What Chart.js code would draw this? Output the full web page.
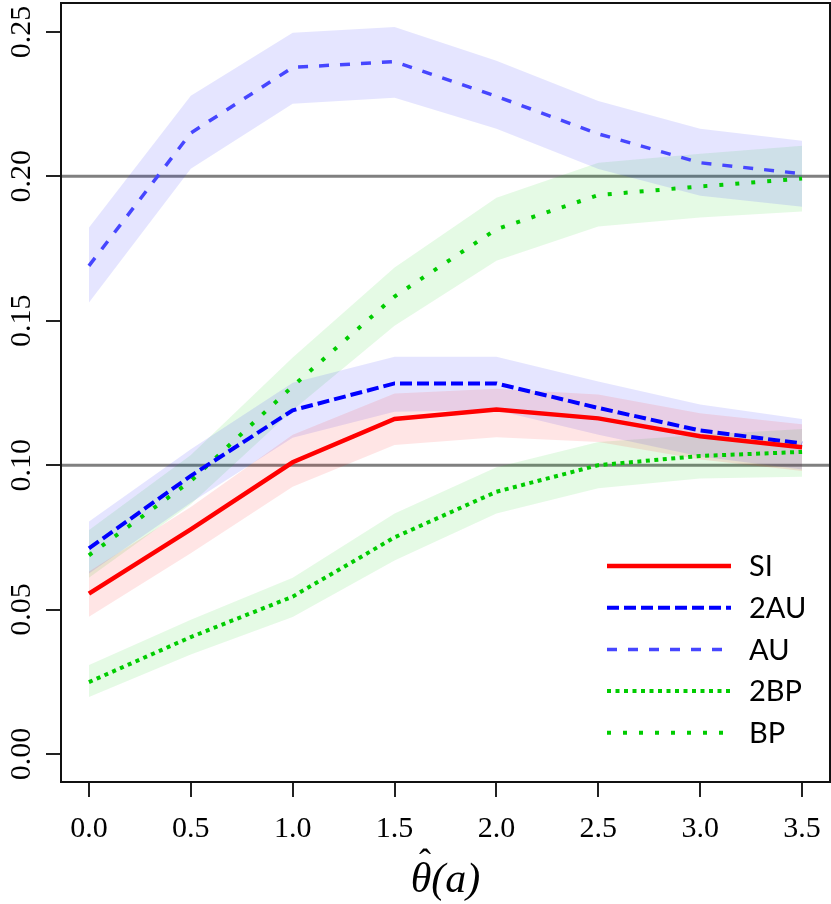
<!DOCTYPE html>
<html>
<head>
<meta charset="utf-8">
<script src="https://cdn.jsdelivr.net/npm/chart.js@4.4.0/dist/chart.umd.min.js"></script>
<style>
  html, body { margin: 0; padding: 0; background: #fff; }
</style>
</head>
<body>
<canvas id="chart" width="831" height="904"></canvas>
<script>
// x positions (theta hat)
const thetaVals = [0, 0.5, 1.0, 1.5, 2.0, 2.5, 3.0, 3.5];
const xTicks = [0, 0.5, 1.0, 1.5, 2.0, 2.5, 3.0, 3.5];
const yTicks = [0, 0.05, 0.10, 0.15, 0.20, 0.25];
const refLevels = [0.10, 0.20];

// rejection rates per method
const siVals  = [0.0555, 0.0778, 0.1010, 0.1160, 0.1193, 0.1162, 0.1100, 0.1062];
const siLow   = [0.0475, 0.0695, 0.0925, 0.1070, 0.1097, 0.1080, 0.1020, 0.0980];
const siHigh  = [0.0632, 0.0855, 0.1105, 0.1248, 0.1265, 0.1245, 0.1180, 0.1142];

const au2Vals = [0.0712, 0.0963, 0.1190, 0.1283, 0.1283, 0.1198, 0.1120, 0.1075];
const au2Low  = [0.0625, 0.0870, 0.1095, 0.1185, 0.1190, 0.1105, 0.1030, 0.0985];
const au2High = [0.0805, 0.1055, 0.1285, 0.1375, 0.1375, 0.1290, 0.1210, 0.1160];

const auVals  = [0.1690, 0.2150, 0.2377, 0.2397, 0.2277, 0.2147, 0.2047, 0.2009];
const auLow   = [0.1563, 0.2026, 0.2251, 0.2272, 0.2165, 0.2025, 0.1933, 0.1895];
const auHigh  = [0.1822, 0.2279, 0.2497, 0.2517, 0.2400, 0.2261, 0.2165, 0.2123];

const bp2Vals = [0.0249, 0.0405, 0.0545, 0.0750, 0.0908, 0.1000, 0.1032, 0.1046];
const bp2Low  = [0.0197, 0.0345, 0.0474, 0.0670, 0.0833, 0.0920, 0.0954, 0.0960];
const bp2High = [0.0308, 0.0465, 0.0610, 0.0833, 0.0993, 0.1080, 0.1105, 0.1125];

const bpVals  = [0.0688, 0.0945, 0.1273, 0.1584, 0.1817, 0.1935, 0.1965, 0.1992];
const bpLow   = [0.0610, 0.0865, 0.1190, 0.1483, 0.1708, 0.1826, 0.1857, 0.1878];
const bpHigh  = [0.0775, 0.1035, 0.1373, 0.1684, 0.1926, 0.2047, 0.2078, 0.2106];

const pts = vals => thetaVals.map((x, i) => ({ x: x, y: vals[i] }));

// lines (drawn on top, so they come first)
const lineSets = [
  { label: 'SI',  data: pts(siVals),  borderColor: '#ff0000', borderWidth: 4.5, borderDash: [] },
  { label: '2AU', data: pts(au2Vals), borderColor: '#0000ff', borderWidth: 4,   borderDash: [12, 5] },
  { label: 'AU',  data: pts(auVals),  borderColor: '#4646ff', borderWidth: 3.5, borderDash: [10, 11] },
  { label: '2BP', data: pts(bp2Vals), borderColor: '#00cc00', borderWidth: 4,   borderDash: [4, 4.5] },
  { label: 'BP',  data: pts(bpVals),  borderColor: '#00cc00', borderWidth: 4,   borderDash: [4, 12] }
].map(d => Object.assign(d, { fill: false, pointRadius: 0, tension: 0, borderCapStyle: 'butt' }));

// shaded bands: lower then upper filled to previous
function band(low, high, color) {
  return [
    { label: '', data: pts(low), borderWidth: 0, pointRadius: 0, fill: false, tension: 0 },
    { label: '', data: pts(high), borderWidth: 0, pointRadius: 0, fill: '-1', tension: 0, backgroundColor: color }
  ];
}
const bandSets = [].concat(
  band(siLow, siHigh, 'rgba(255,0,0,0.10)'),
  band(au2Low, au2High, 'rgba(0,0,255,0.10)'),
  band(auLow, auHigh, 'rgba(0,0,255,0.10)'),
  band(bp2Low, bp2High, 'rgba(0,205,0,0.10)'),
  band(bpLow, bpHigh, 'rgba(0,205,0,0.10)')
);

const decorPlugin = {
  id: 'decor',
  beforeDatasetsDraw(chart) {
    const { ctx, chartArea, scales } = chart;
    ctx.save();
    ctx.strokeStyle = '#808080';
    ctx.lineWidth = 3;
    refLevels.forEach(v => {
      const py = scales.y.getPixelForValue(v);
      ctx.beginPath();
      ctx.moveTo(chartArea.left, py);
      ctx.lineTo(chartArea.right, py);
      ctx.stroke();
    });
    ctx.restore();
  },
  afterDraw(chart) {
    const { ctx, chartArea, scales } = chart;
    ctx.save();
    // frame
    ctx.strokeStyle = '#111';
    ctx.lineWidth = 2;
    ctx.strokeRect(chartArea.left, chartArea.top, chartArea.right - chartArea.left, chartArea.bottom - chartArea.top);

    // rotated y tick labels
    ctx.fillStyle = '#000';
    ctx.font = '30px "Liberation Serif"';
    ctx.textAlign = 'center';
    ctx.textBaseline = 'middle';
    scales.y.ticks.forEach(t => {
      const py = scales.y.getPixelForValue(t.value);
      ctx.save();
      ctx.translate(22, py);
      ctx.rotate(-Math.PI / 2);
      ctx.fillText(t.value.toFixed(2), 0, 0);
      ctx.restore();
    });

    // x axis title: theta hat (a)
    ctx.font = 'italic 42px "Liberation Serif"';
    ctx.textAlign = 'left';
    ctx.textBaseline = 'alphabetic';
    const full = 'θ(a)';
    const wFull = ctx.measureText(full).width;
    const wTheta = ctx.measureText('θ').width;
    const tx = (chartArea.left + chartArea.right) / 2 - wFull / 2;
    const base = 892;
    ctx.fillText(full, tx, base);
    ctx.font = '36px "Liberation Serif"';
    ctx.textAlign = 'center';
    ctx.fillText('ˆ', tx + wTheta / 2 + 4, base - 18);

    // legend
    ctx.font = '29px Lato';
    ctx.textAlign = 'left';
    ctx.textBaseline = 'middle';
    lineSets.forEach((d, i) => {
      const ly = 566 + i * 41.7;
      ctx.strokeStyle = d.borderColor;
      ctx.lineWidth = d.borderWidth;
      ctx.setLineDash(d.borderDash);
      ctx.beginPath();
      ctx.moveTo(607, ly);
      ctx.lineTo(731, ly);
      ctx.stroke();
      ctx.setLineDash([]);
      ctx.fillStyle = '#000';
      ctx.fillText(d.label, 749, ly + 1);
    });
    ctx.restore();
  }
};

new Chart(document.getElementById('chart').getContext('2d'), {
  type: 'line',
  data: { datasets: lineSets.concat(bandSets) },
  options: {
    responsive: false,
    animation: false,
    devicePixelRatio: 1,
    layout: { padding: { left: 0, top: 3, right: 1, bottom: 0 } },
    plugins: { legend: { display: false }, tooltip: { enabled: false }, filler: { propagate: false } },
    scales: {
      x: {
        type: 'linear',
        min: -0.137,
        max: 3.637,
        afterBuildTicks: s => { s.ticks = xTicks.map(v => ({ value: v })); },
        afterFit: s => { s.height = 122; s.paddingLeft = 0; s.paddingRight = 0; },
        ticks: {
          callback: v => Number(v).toFixed(1),
          font: { family: 'Liberation Serif', size: 30 },
          color: '#000',
          padding: 14,
          maxRotation: 0,
          autoSkip: false
        },
        grid: { drawOnChartArea: false, drawTicks: true, tickLength: 15, color: '#222', lineWidth: 2 },
        border: { display: false },
        title: { display: false }
      },
      y: {
        type: 'linear',
        min: -0.00968,
        max: 0.26,
        afterBuildTicks: s => { s.ticks = yTicks.map(v => ({ value: v })); },
        afterFit: s => { s.width = 61; s.paddingTop = 0; s.paddingBottom = 0; },
        ticks: { display: false },
        grid: { drawOnChartArea: false, drawTicks: true, tickLength: 15, color: '#222', lineWidth: 2 },
        border: { display: false }
      }
    }
  },
  plugins: [decorPlugin]
});
</script>
</body>
</html>
